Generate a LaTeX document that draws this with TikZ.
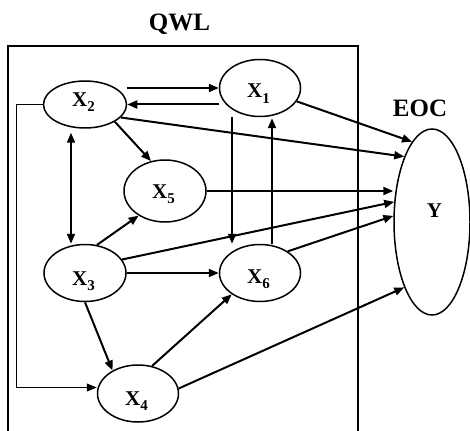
\documentclass[tikz,border=0pt]{standalone}
\usepackage{fontspec}
\setmainfont{Liberation Serif}[BoldFont={Liberation Serif Bold}]
\usetikzlibrary{shapes.geometric,arrows.meta}
\newcommand{\lab}[2]{\raisebox{-#1pt}[0pt][0pt]{\makebox[0pt]{\hspace{-3pt}X\raisebox{-5.5pt}{\fontsize{15}{15}\selectfont #2}}}}
\begin{document}
\begin{tikzpicture}[x=1pt,y=-1pt,
  var/.style={ellipse,draw,line width=1.5pt,inner sep=0pt,font=\fontsize{21}{25}\selectfont\bfseries},
  arr/.style={line width=2pt,-{Triangle[length=10pt,width=8pt]}},
  darr/.style={line width=2pt,{Triangle[length=10pt,width=8pt]}-{Triangle[length=10pt,width=8pt]}},
  elbow/.style={line width=1pt,-{Triangle[length=10pt,width=8pt]}},
  ttl/.style={font=\fontsize{25}{29}\selectfont\bfseries,anchor=base,inner sep=0pt},
  frame/.style={line width=1.5pt}]
\useasboundingbox (0,0) rectangle (470,430);
% frame
\draw[frame] (8,434) -- (8,46) -- (358,46) -- (358,434);
\node[ttl] (qwl) at (179.5,31) {QWL};
\node[ttl] (eoc) at (420,117) {EOC};
% variables
\node[var,minimum width=83pt,minimum height=47pt] (X2) at (85,104.5) {\lab{2}{2}};
\node[var,minimum width=81pt,minimum height=57pt] (X1) at (260,88) {\lab{10}{1}};
\node[var,minimum width=82pt,minimum height=62pt] (X5) at (165,191) {\lab{7}{5}};
\node[var,minimum width=82pt,minimum height=57pt] (X3) at (85,273) {\lab{12}{3}};
\node[var,minimum width=81pt,minimum height=57pt] (X6) at (260,273) {\lab{10}{6}};
\node[var,minimum width=81pt,minimum height=57pt] (X4) at (138,393.5) {\lab{11.5}{4}};
\node[var,minimum width=76pt,minimum height=186pt] (Y) at (432,222) {\raisebox{5pt}[0pt][0pt]{\makebox[0pt]{\hspace{5pt}Y}}};
% connectors
\draw[arr] (X2.east |- X1.west) -- (X1.west);
\draw[arr] (X1.west |- X2.east) -- (X2.east);
\draw[arr] (X2.-30) -- (X5.115);
\draw[arr] (X2.-20) -- (Y.113);
\draw[arr] (X1.-20) -- (Y.104);
\draw[arr] (X5.east) -- (X5.east -| Y.west);
\draw[arr] (X3.20) -- (Y.152);
\draw[arr] (X6.38) -- (Y.171);
\draw[arr] (X4.7) -- (Y.247);
\draw[arr] (X3.67) -- (X5.223);
\draw[arr] (X3.east) -- (X6.west);
\draw[arr] (X3.south) -- (X4.138);
\draw[arr] (X4.63) -- (X6.217);
\draw[darr] ([xshift=-14pt,yshift=-4pt]X2.south) -- ([xshift=-14pt]X3.north);
\draw[arr] ([xshift=-28pt]X1.south) -- ([xshift=-28pt]X6.north);
\draw[arr] ([xshift=12pt]X6.north) -- ([xshift=12pt,yshift=-1pt]X1.south);
\draw[elbow] (X2.west) -- ++(-26.5,0) |- ([yshift=6pt]X4.west);
\end{tikzpicture}
\end{document}
